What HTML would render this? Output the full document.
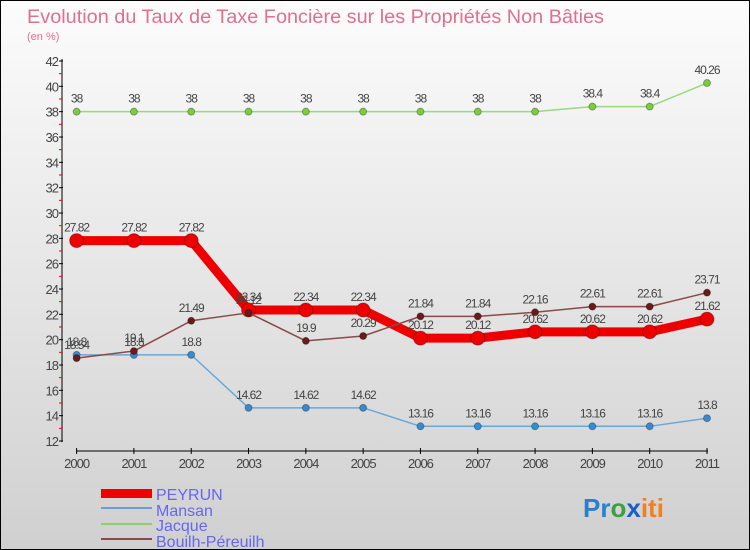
<!DOCTYPE html>
<html><head><meta charset="utf-8"><style>
body{margin:0}
#c{position:relative;width:750px;height:550px;box-sizing:border-box;border:1px solid #000;background:linear-gradient(#fcfcfc,#d0d0d0);font-family:"Liberation Sans",sans-serif;overflow:hidden}
</style></head><body>
<div id="c">
<svg width="750" height="550" style="position:absolute;left:0;top:0" id="svg">
<text x="26" y="22" font-size="19" fill="#e07090" textLength="577" lengthAdjust="spacingAndGlyphs">Evolution du Taux de Taxe Foncière sur les Propriétés Non Bâties</text>
<text x="26" y="39" font-size="11" fill="#e07090">(en %)</text>
<g id="axes"></g><g id="series"></g>
<g>
<rect x="100" y="488" width="51" height="9" fill="#e00"/>
<line x1="100" y1="507" x2="151" y2="507" stroke="#6a9fd0" stroke-width="2"/>
<line x1="100" y1="523" x2="151" y2="523" stroke="#8ed070" stroke-width="2"/>
<line x1="100" y1="538" x2="151" y2="538" stroke="#8a4a4a" stroke-width="2"/>
<text x="155" y="499" font-size="16" fill="#6666ee">PEYRUN</text>
<text x="155" y="515" font-size="16" fill="#6666ee">Mansan</text>
<text x="155" y="530" font-size="16" fill="#6666ee">Jacque</text>
<text x="155" y="546" font-size="16" fill="#6666ee">Bouilh-Péreuilh</text>
</g>
<text x="582" y="516" font-size="26" font-weight="bold"><tspan fill="#2a7fd0">Pr</tspan><tspan fill="#3aa040">o</tspan><tspan fill="#1560c0">x</tspan><tspan fill="#f08020">iti</tspan></text>
</svg>
</div>
<script>
const years=[2000,2001,2002,2003,2004,2005,2006,2007,2008,2009,2010,2011];
const peyrun=[27.82,27.82,27.82,22.34,22.34,22.34,20.12,20.12,20.62,20.62,20.62,21.62];
const mansan=[18.8,18.8,18.8,14.62,14.62,14.62,13.16,13.16,13.16,13.16,13.16,13.8];
const jacque=[38,38,38,38,38,38,38,38,38,38.4,38.4,40.26];
const bouilh=[18.54,19.1,21.49,22.12,19.9,20.29,21.84,21.84,22.16,22.61,22.61,23.71];
const yTicks=[12,14,16,18,20,22,24,26,28,30,32,34,36,38,40,42];
const NS="http://www.w3.org/2000/svg";
const xs=i=>75.6+i*(706-75.6)/11;
const ys=v=>440-(v-12)*(380/30);
function mk(t,a,p){const e=document.createElementNS(NS,t);for(const k in a)e.setAttribute(k,a[k]);p.appendChild(e);return e;}
const ax=document.getElementById('axes');
let e=mk('line',{x1:61,y1:58,x2:61,y2:441,stroke:'#000'},ax);


e=mk('line',{x1:75,y1:450,x2:707,y2:450,stroke:'#000'},ax);


for(let v=13;v<42;v+=2){e=mk('line',{x1:58,y1:ys(v),x2:61,y2:ys(v),stroke:'#e00'},ax);

}
yTicks.forEach(v=>{e=mk('line',{x1:58,y1:ys(v),x2:62,y2:ys(v),stroke:'#000'},ax);


e=mk('text',{x:57,y:ys(v)+5,'font-size':13,'text-anchor':'end',fill:'#444','letter-spacing':'-1'},ax);e.textContent=v;

});
years.forEach((y,i)=>{e=mk('line',{x1:xs(i),y1:447,x2:xs(i),y2:453,stroke:'#000'},ax);


e=mk('text',{x:xs(i),y:467,'font-size':13,'text-anchor':'middle',fill:'#444','letter-spacing':'-1'},ax);e.textContent=y;

});
const sg=document.getElementById('series');
function draw(vals,name,color,dot,w,r){
 const g=mk('g',{},sg);
 
 
 e=mk('polyline',{points:vals.map((v,i)=>xs(i)+','+ys(v)).join(' '),fill:'none',stroke:color,'stroke-width':w,'stroke-linejoin':'round'},g);
 
 
 vals.forEach((v,i)=>{e=mk('circle',{cx:xs(i),cy:ys(v),r:r,fill:dot,stroke:'rgba(0,0,0,0.3)'},g);
 
 
 e=mk('text',{x:xs(i),y:ys(v)-9,'font-size':12,'text-anchor':'middle',fill:'#444','letter-spacing':'-1'},g);e.textContent=v;
 
 });
}
draw(jacque,'jacque','#9ad880','#7acc40',1.5,3.5);
draw(mansan,'mansan','#6aa8d8','#3a8ad0',1.5,3.5);
draw(peyrun,'peyrun','#ee0000','#ee0000',9,7);
draw(bouilh,'bouilh','#8a4a4a','#6a1a1a',1.5,3.5);
</script>
</body></html>
